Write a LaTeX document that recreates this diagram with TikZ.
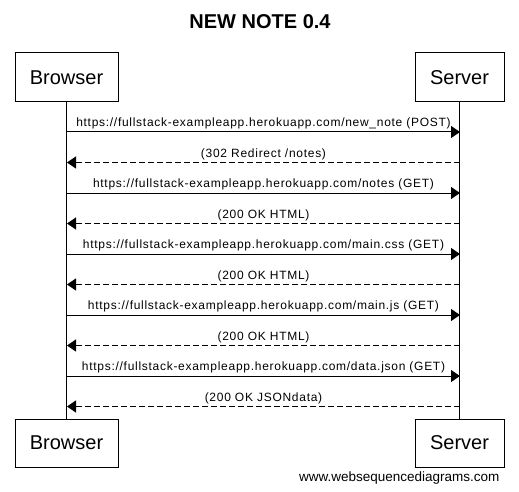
\documentclass[tikz,border=0pt]{standalone}
\usepackage{fontspec}
\setmainfont{Liberation Sans}
\newfontfamily\etichettafont[LetterSpace=6]{Liberation Sans}
\usetikzlibrary{positioning, arrows.meta}

\begin{document}
\begin{tikzpicture}[x=1pt,y=-1pt,line width=1pt,
    attore/.style={draw, minimum height=49pt, inner sep=0pt, font=\fontsize{20}{24}\selectfont},
    messaggio/.style={-{Triangle[length=9pt,width=12pt]}},
    risposta/.style={messaggio, dash pattern=on 6pt off 3pt},
    etichetta/.style={anchor=south, inner sep=2.5pt, font=\etichettafont\fontsize{12}{14}\selectfont}]
        \useasboundingbox (0,0) rectangle (519,492);
        %titolo
        \node[font=\bfseries\fontsize{20}{24}\selectfont] (titolo) at (260,22) {NEW NOTE 0.4};
        %partecipanti sopra
        \node[attore, minimum width=103pt] (browser) at (66.5,77.5) {Browser};
        \node[attore, minimum width=89pt] (server) at (459.5,77.5) {Server};
        %partecipanti sotto
        \node[attore, minimum width=103pt, minimum height=48pt] (browser2) at (66.5,443) {Browser};
        \node[attore, minimum width=89pt, minimum height=48pt] (server2) at (459.5,443) {Server};
        %linee di vita
        \draw (browser) -- (browser2);
        \draw (server) -- (server2);
        %messaggi
        \foreach \i/\testo/\tipo in {
          1/{https://fullstack-exampleapp.herokuapp.com/new\_note (POST)}/messaggio,
          2/{(302 Redirect /notes)}/risposta,
          3/{https://fullstack-exampleapp.herokuapp.com/notes (GET)}/messaggio,
          4/{(200 OK HTML)}/risposta,
          5/{https://fullstack-exampleapp.herokuapp.com/main.css (GET)}/messaggio,
          6/{(200 OK HTML)}/risposta,
          7/{https://fullstack-exampleapp.herokuapp.com/main.js (GET)}/messaggio,
          8/{(200 OK HTML)}/risposta,
          9/{https://fullstack-exampleapp.herokuapp.com/data.json (GET)}/messaggio,
          10/{(200 OK JSONdata)}/risposta} {
          \coordinate (b\i) at (67,132+30.5*\i-30.5);
          \coordinate (s\i) at (460,132+30.5*\i-30.5);
          \ifodd\i
            \draw[\tipo] (b\i) -- node[etichetta] {\testo} (s\i);
          \else
            \draw[\tipo] (s\i) -- node[etichetta] {\testo} (b\i);
          \fi
        }
        %firma
        \node[anchor=east, inner sep=0pt, font=\fontsize{13.5}{15}\selectfont] (firma) at (500,478) {www.websequencediagrams.com};
    \end{tikzpicture}
\end{document}
